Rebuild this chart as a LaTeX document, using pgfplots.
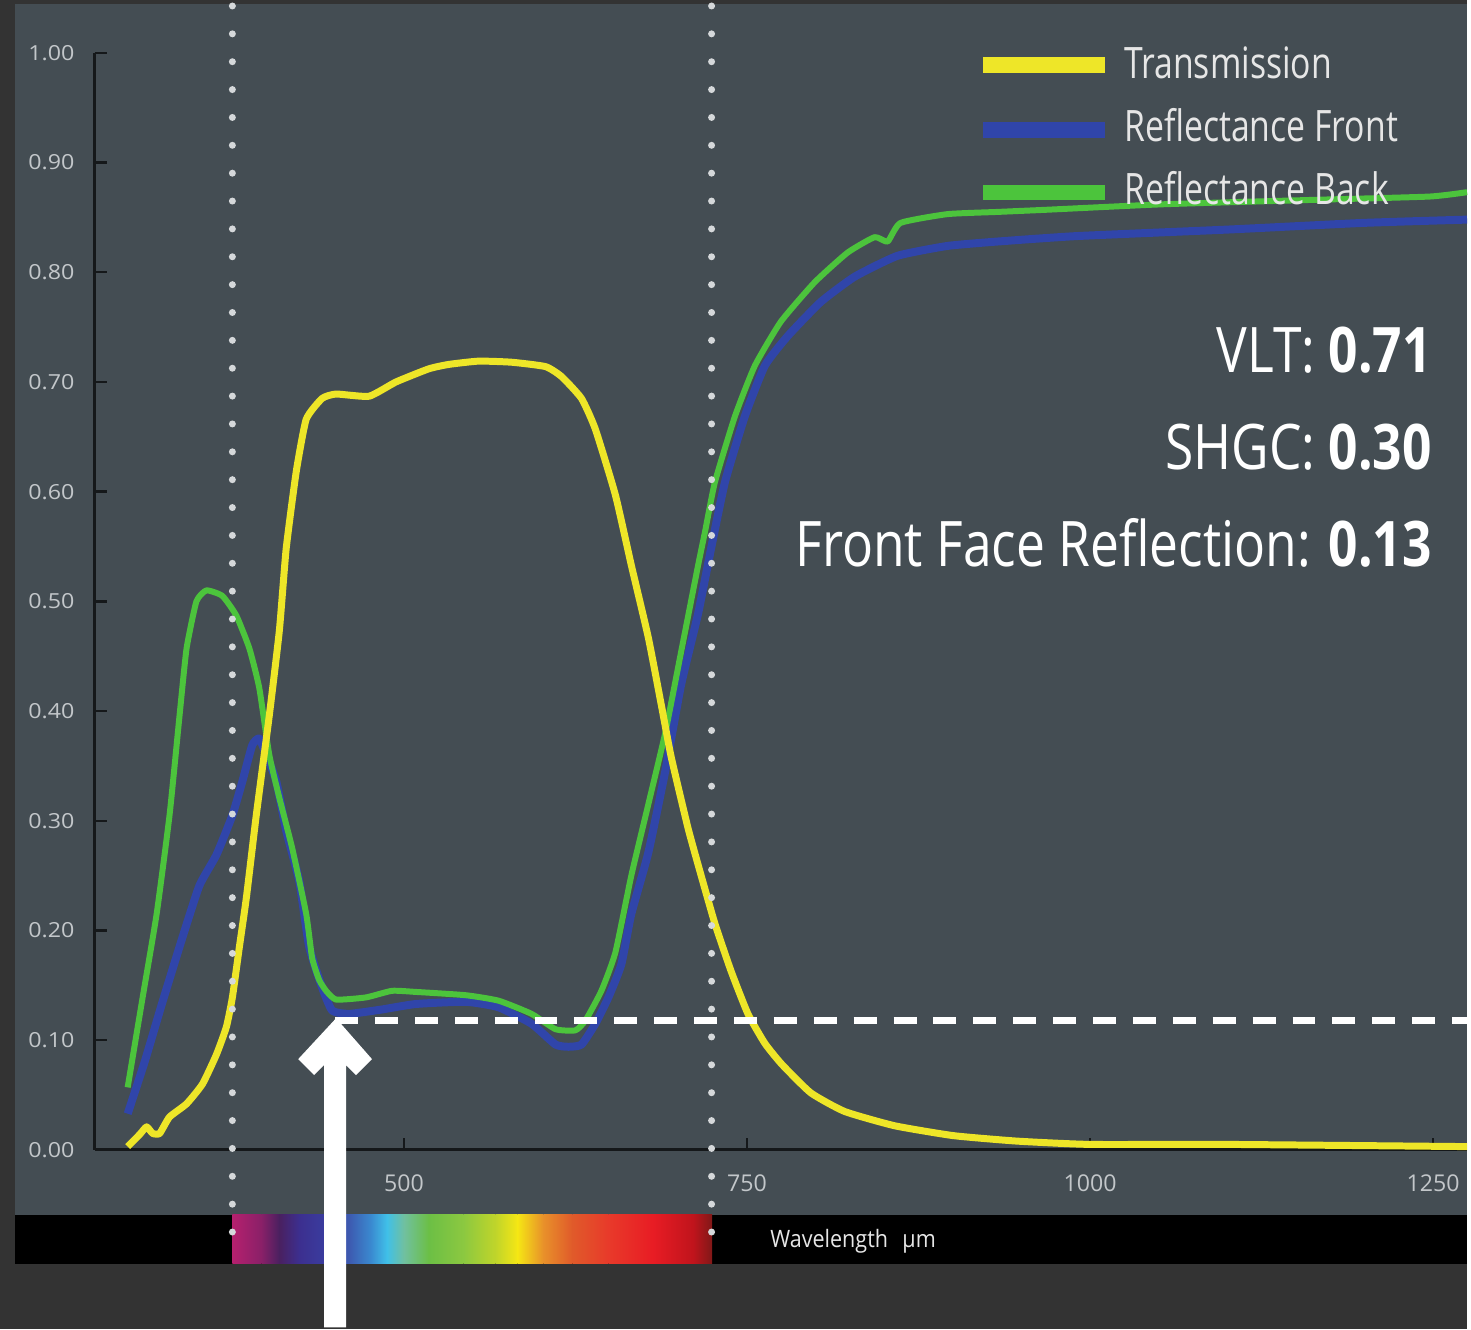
\documentclass[border=0pt]{standalone}
\usepackage{pgfplots}
\pgfplotsset{compat=1.18}
\usepackage{fontspec}
\setmainfont{Open Sans}
\newfontfamily\condfont{Open Sans}[FakeStretch=0.78]
\newfontfamily\annfont{Open Sans}[FakeStretch=0.82]
\newfontfamily\wavefont{Open Sans}[FakeStretch=0.9]
\newfontfamily\ytickfont{Open Sans}[FakeStretch=1.12]

\definecolor{outerbg}{HTML}{333333}
\definecolor{panel}{HTML}{444D53}
\definecolor{tyellow}{HTML}{EEE628}
\definecolor{rblue}{HTML}{3045AA}
\definecolor{rgreen}{HTML}{4CC43C}
\definecolor{ticktext}{HTML}{C3C7CA}
\definecolor{legtext}{HTML}{E6E6E6}
\definecolor{dotcol}{HTML}{D5D8DA}
\definecolor{axisblk}{HTML}{15181A}
% spectrum colours
\definecolor{sp1}{HTML}{B5206E}
\definecolor{sp2}{HTML}{8A2068}
\definecolor{sp3}{HTML}{4A2060}
\definecolor{sp4}{HTML}{3C2F8F}
\definecolor{sp5}{HTML}{3A3C9E}
\definecolor{sp6}{HTML}{3D5AB0}
\definecolor{sp7}{HTML}{3A8AD0}
\definecolor{sp8}{HTML}{40C0E8}
\definecolor{sp9}{HTML}{70C0A0}
\definecolor{sp10}{HTML}{6CBF45}
\definecolor{sp11}{HTML}{8CC840}
\definecolor{sp12}{HTML}{C0D52A}
\definecolor{sp13}{HTML}{F5E614}
\definecolor{sp14}{HTML}{E8902A}
\definecolor{sp15}{HTML}{E05A2A}
\definecolor{sp16}{HTML}{E83A2A}
\definecolor{sp17}{HTML}{E81C24}
\definecolor{sp18}{HTML}{C0141C}
\definecolor{sp19}{HTML}{801818}

\begin{document}
\begin{tikzpicture}
\begin{scope}[x=0.5pt,y=-0.5pt]
\path[use as bounding box] (0,0) rectangle (1471,1333);
\fill[outerbg] (0,0) rectangle (1471,1333);
\fill[panel] (15,4) rectangle (1471,1218);
\fill[black] (15,1218) rectangle (1471,1267);
% spectrum
\shade[left color=sp1,right color=sp2] (233,1218) rectangle (262,1267);
\shade[left color=sp2,right color=sp3] (262,1218) rectangle (280,1267);
\shade[left color=sp3,right color=sp4] (280,1218) rectangle (300,1267);
\shade[left color=sp4,right color=sp5] (300,1218) rectangle (325,1267);
\shade[left color=sp5,right color=sp6] (325,1218) rectangle (350,1267);
\shade[left color=sp6,right color=sp7] (350,1218) rectangle (372,1267);
\shade[left color=sp7,right color=sp8] (372,1218) rectangle (388,1267);
\shade[left color=sp8,right color=sp9] (388,1218) rectangle (405,1267);
\shade[left color=sp9,right color=sp10] (405,1218) rectangle (430,1267);
\shade[left color=sp10,right color=sp11] (430,1218) rectangle (465,1267);
\shade[left color=sp11,right color=sp12] (465,1218) rectangle (497,1267);
\shade[left color=sp12,right color=sp13] (497,1218) rectangle (519,1267);
\shade[left color=sp13,right color=sp14] (519,1218) rectangle (545,1267);
\shade[left color=sp14,right color=sp15] (545,1218) rectangle (574,1267);
\shade[left color=sp15,right color=sp16] (574,1218) rectangle (610,1267);
\shade[left color=sp16,right color=sp17] (610,1218) rectangle (655,1267);
\shade[left color=sp17,right color=sp18] (655,1218) rectangle (695,1267);
\shade[left color=sp18,right color=sp19] (695,1218) rectangle (714,1267);
\end{scope}

\begin{axis}[
  at={(47.5pt,-576.5pt)}, anchor=south west,
  scale only axis, width=688pt, height=550pt,
  xmin=274.7, xmax=1274.7, ymin=0, ymax=1,
  clip=false,
  axis x line=bottom, axis y line=left,
  axis line style={-, draw=axisblk, line width=1.5pt},
  tick align=inside, major tick length=6pt,
  tick style={draw=axisblk, line width=1.2pt},
  xtick={500,750,1000,1250},
  ytick={0,0.1,0.2,0.3,0.4,0.5,0.6,0.7,0.8,0.9,1},
  /pgf/number format/assume math mode=true,
  /pgf/number format/1000 sep={},
  yticklabel style={/pgf/number format/.cd, fixed, fixed zerofill, precision=2, /tikz/.cd,
    font=\ytickfont\fontsize{10.4}{11}\selectfont, text=ticktext, anchor=east, inner sep=0pt, xshift=-10pt},
  xticklabel style={font=\fontsize{11.6}{12}\selectfont, text=ticktext, anchor=north, inner sep=0pt, yshift=-12pt},
]
% Reflectance Front
\addplot[rblue, line width=4pt, line join=round, smooth, tension=0.3] coordinates {
(298.7,0.033) (311.0,0.080) (324.1,0.135) (338.7,0.194) (351.0,0.241) (363.4,0.269)
(375.0,0.305) (382.3,0.336) (389.5,0.369) (394.6,0.375) (399.7,0.360) (407.0,0.336)
(414.2,0.291) (423.7,0.245) (431.0,0.185) (440.4,0.148) (447.7,0.127) (460.0,0.124)
(484.0,0.128) (508.7,0.133) (545.1,0.135) (569.0,0.130) (593.0,0.115) (610.5,0.096)
(619.9,0.094) (629.4,0.096) (639.5,0.115) (649.0,0.139) (658.4,0.169) (665.7,0.215)
(678.1,0.271) (690.4,0.345) (702.0,0.424) (714.4,0.489) (723.8,0.548) (734.0,0.609)
(748.5,0.669) (763.1,0.715) (779.8,0.742) (803.8,0.773) (828.5,0.796) (859.7,0.815)
(896.1,0.824) (932.4,0.828) (990.5,0.833) (1101.7,0.839) (1199.1,0.845) (1274.7,0.848)
};
% Reflectance Back
\addplot[rgreen, line width=3pt, line join=round, smooth, tension=0.3] coordinates {
(298.7,0.057) (309.6,0.139) (319.8,0.215) (329.2,0.305) (336.5,0.396) (341.6,0.457)
(348.8,0.500) (356.1,0.510) (367.7,0.505) (377.9,0.487) (387.4,0.457) (394.6,0.421)
(401.9,0.360) (409.2,0.321) (418.6,0.275) (428.8,0.215) (433.1,0.175) (438.2,0.155)
(443.3,0.145) (450.6,0.137) (472.4,0.139) (491.3,0.145) (508.7,0.144) (545.1,0.141)
(569.0,0.136) (593.0,0.124) (610.5,0.110) (625.0,0.109) (632.3,0.118) (643.9,0.145)
(654.1,0.180) (665.7,0.250) (678.1,0.315) (690.4,0.380) (702.0,0.454) (714.4,0.533)
(719.5,0.564) (726.7,0.609) (741.3,0.669) (755.8,0.715) (774.7,0.755) (799.4,0.791)
(823.4,0.818) (843.0,0.832) (852.5,0.828) (861.9,0.845) (896.1,0.853) (932.4,0.855)
(968.7,0.857) (1053.8,0.862) (1162.8,0.866) (1247.1,0.869) (1274.7,0.873)
};
% Transmission
\addplot[tyellow, line width=3.5pt, line join=round, smooth, tension=0.3] coordinates {
(298.7,0.003) (307.4,0.014) (312.5,0.021) (316.9,0.015) (322.0,0.015) (329.2,0.030)
(341.6,0.042) (353.2,0.060) (363.4,0.087) (370.6,0.112) (375.0,0.139) (380.1,0.185)
(385.2,0.230) (392.4,0.305) (401.9,0.396) (409.2,0.473) (414.2,0.548) (421.5,0.618)
(428.8,0.666) (440.4,0.685) (450.6,0.689) (474.6,0.687) (494.2,0.700) (518.2,0.712)
(532.7,0.716) (554.5,0.719) (578.5,0.718) (603.2,0.714) (614.8,0.705) (629.4,0.685)
(639.5,0.657) (654.1,0.597) (665.7,0.533) (678.1,0.467) (687.5,0.406) (694.8,0.358)
(707.1,0.293) (716.6,0.250) (726.7,0.206) (738.4,0.163) (750.7,0.124) (763.1,0.097)
(775.4,0.078) (796.5,0.052) (821.2,0.035) (857.6,0.022) (900.4,0.013) (946.9,0.008)
(1000,0.005) (1100.3,0.005) (1274.7,0.003)
};
\end{axis}

\begin{scope}[x=0.5pt,y=-0.5pt]
% dotted visible-range lines
\draw[dotcol, line width=3.5pt, line cap=round, dash pattern=on 0pt off 13.97pt] (233,6) -- (233,1263);
\draw[dotcol, line width=3.5pt, line cap=round, dash pattern=on 0pt off 13.97pt] (713.5,6) -- (713.5,1263);
% dashed marker line
\draw[white, line width=3.5pt, dash pattern=on 11.5pt off 8.5pt] (336,1023) -- (1471,1023);
% arrow
\fill[white] (337,1021) -- (373,1062) -- (357,1078) -- (347,1068) -- (347,1331) -- (325,1331)
  -- (325,1068) -- (315,1078) -- (299,1062) -- cycle;
% legend
\draw[tyellow, line width=8pt] (986,65) -- (1108,65);
\draw[rblue, line width=8pt] (986,130) -- (1108,130);
\draw[rgreen, line width=8pt] (986,193) -- (1108,193);
\node[anchor=base west, inner sep=0pt, text=legtext, font=\condfont\fontsize{21.7}{22}\selectfont] at (1127,79) {Transmission};
\node[anchor=base west, inner sep=0pt, text=legtext, font=\condfont\fontsize{21.7}{22}\selectfont] at (1127,142) {Reflectance Front};
\node[anchor=base west, inner sep=0pt, text=legtext, font=\condfont\fontsize{21.7}{22}\selectfont] at (1127,205) {Reflectance Back};
% performance values
\node[anchor=base east, inner sep=0pt, text=white, font=\annfont\fontsize{31.5}{32}\selectfont] at (1436,374) {VLT: \textbf{0.71}};
\node[anchor=base east, inner sep=0pt, text=white, font=\annfont\fontsize{31.5}{32}\selectfont] at (1436,471) {SHGC: \textbf{0.30}};
\node[anchor=base east, inner sep=0pt, text=white, font=\annfont\fontsize{31.5}{32}\selectfont] at (1436,568) {Front Face Reflection: \textbf{0.13}};
% wavelength label
\node[anchor=base west, inner sep=0pt, text=legtext, font=\wavefont\fontsize{12}{12}\selectfont] at (772,1251) {Wavelength\hspace{0.6em}µm};
\end{scope}
\end{tikzpicture}
\end{document}
